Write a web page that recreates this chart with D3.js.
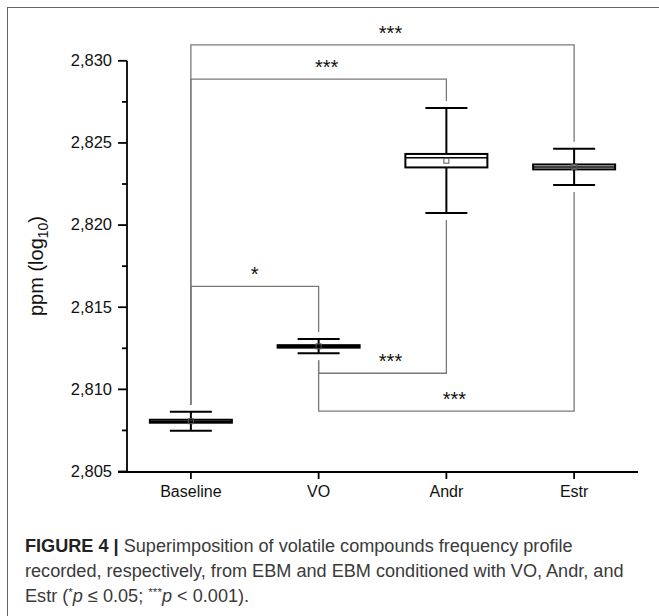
<!DOCTYPE html>
<html><head><meta charset="utf-8">
<script src="https://cdn.jsdelivr.net/npm/d3@7"></script>
<style>
body{margin:0;background:#fff}
svg{display:block}
text{font-family:"Liberation Sans",Arial,Helvetica,sans-serif}
</style>
</head><body>
<svg id="c" width="659" height="616"></svg>
<script>
// ---- data ----
const categories = ["Baseline", "VO", "Andr", "Estr"];
const whiskerLow  = [2.80748, 2.81220, 2.82074, 2.82244];
const q1          = [2.80797, 2.81254, 2.82351, 2.82339];
const median      = [2.80804, 2.81262, 2.82410, 2.82353];
const q3          = [2.80815, 2.81269, 2.82433, 2.82369];
const whiskerHigh = [2.80863, 2.81307, 2.82712, 2.82465];
const means       = [2.80806, 2.81262, 2.82392, 2.82353];
const yTicks      = [2.805, 2.810, 2.815, 2.820, 2.825, 2.830];
const yMinorTicks = [2.8075, 2.8125, 2.8175, 2.8225, 2.8275];
const bracketFrom  = ["Baseline", "Baseline", "Baseline", "VO", "VO"];
const bracketTo    = ["Estr", "Andr", "VO", "Andr", "Estr"];
const bracketLevel = [2.83097, 2.82889, 2.81627, 2.81098, 2.80868];
const bracketLabel = ["***", "***", "*", "***", "***"];

// ---- scales ----
const svg = d3.select("#c");
const y = d3.scaleLinear().domain([2.805, 2.830]).range([471.5, 60.8]);
const x = d3.scalePoint().domain(categories).range([127, 638]).padding(0.5);
const loc = d3.formatLocale({decimal: ",", thousands: ".", grouping: [3], currency: ["", ""]});
const fmt = loc.format(".3f");

const boxes = categories.map((c, i) => ({
  c, lo: whiskerLow[i], q1: q1[i], med: median[i], q3: q3[i], hi: whiskerHigh[i], mean: means[i]
}));
const byCat = Object.fromEntries(boxes.map(b => [b.c, b]));

// frame
svg.append("rect").attr("x", 7.5).attr("y", 7.5).attr("width", 720).attr("height", 720)
  .attr("fill", "none").attr("stroke", "#666").attr("stroke-width", 1);

// ---- significance brackets ----
const gap = 7;
const br = bracketFrom.map((f, i) => ({from: f, to: bracketTo[i], level: bracketLevel[i], label: bracketLabel[i]}));
const bg = svg.append("g").attr("stroke", "#7a7a7a").attr("stroke-width", 1.3).attr("fill", "none");
function legEnd(cat, level) {
  const b = byCat[cat];
  return level > b.hi ? y(b.hi) - gap : y(b.lo) + gap;
}
br.forEach(d => {
  const x1 = x(d.from), x2 = x(d.to), yl = y(d.level);
  bg.append("path").attr("d",
    `M${x1},${legEnd(d.from, d.level)}V${yl}H${x2}V${legEnd(d.to, d.level)}`);
});
svg.append("g").selectAll("text").data(br).join("text")
  .attr("x", d => (x(d.from) + x(d.to)) / 2 + (d.label.length > 1 ? 8 : 0))
  .attr("y", d => y(d.level) - 5)
  .attr("text-anchor", "middle").attr("font-size", 20).attr("fill", "#111")
  .text(d => d.label);

// ---- axes ----
const yAx = svg.append("g").attr("transform", "translate(127,0)")
  .call(d3.axisLeft(y).tickValues(yTicks).tickFormat(fmt).tickSize(9).tickSizeOuter(0).tickPadding(6).offset(0));
svg.append("g").attr("transform", "translate(127,0)")
  .call(d3.axisLeft(y).tickValues(yMinorTicks).tickFormat("").tickSize(5).tickSizeOuter(0).offset(0))
  .call(g => g.select(".domain").remove());
const xAx = svg.append("g").attr("transform", "translate(0,472)")
  .call(d3.axisBottom(x).tickSize(7).tickSizeOuter(0).tickPadding(7).offset(0));
svg.selectAll(".domain, .tick line").attr("stroke", "#000").attr("stroke-width", 1.8);
yAx.attr("font-size", 16.5);
xAx.attr("font-size", 16);
[yAx, xAx].forEach(g => g.attr("font-family", '"Liberation Sans",Arial,sans-serif')
  .selectAll("text").attr("fill", "#111"));
xAx.select(".domain").attr("d", "M118,0H638");

// y label
svg.append("text").attr("transform", "translate(43,266) rotate(-90)")
  .attr("text-anchor", "middle").attr("font-size", 20).attr("fill", "#111")
  .call(t => {
    t.append("tspan").text("ppm (log");
    t.append("tspan").attr("font-size", 14).attr("dy", 5).text("10");
    t.append("tspan").attr("dy", -5).text(")");
  });

// ---- box plots ----
const boxW = 82, capW = 42;
const gb = svg.append("g").attr("stroke", "#000").attr("stroke-width", 2);
const grp = gb.selectAll("g").data(boxes).join("g");
grp.append("line").attr("x1", d => x(d.c)).attr("x2", d => x(d.c))
  .attr("y1", d => y(d.hi)).attr("y2", d => y(d.q3));
grp.append("line").attr("x1", d => x(d.c)).attr("x2", d => x(d.c))
  .attr("y1", d => y(d.q1)).attr("y2", d => y(d.lo));
grp.append("line").attr("x1", d => x(d.c) - capW / 2).attr("x2", d => x(d.c) + capW / 2)
  .attr("y1", d => y(d.hi)).attr("y2", d => y(d.hi));
grp.append("line").attr("x1", d => x(d.c) - capW / 2).attr("x2", d => x(d.c) + capW / 2)
  .attr("y1", d => y(d.lo)).attr("y2", d => y(d.lo));
grp.append("rect").attr("x", d => x(d.c) - boxW / 2).attr("width", boxW)
  .attr("y", d => y(d.q3)).attr("height", d => y(d.q1) - y(d.q3)).attr("fill", "#fff");
grp.append("line").attr("x1", d => x(d.c) - boxW / 2).attr("x2", d => x(d.c) + boxW / 2)
  .attr("y1", d => y(d.med)).attr("y2", d => y(d.med)).attr("stroke-width", 1.5);
grp.append("rect").attr("x", d => x(d.c) - 2.5).attr("y", d => y(d.mean) - 2.5)
  .attr("width", 5).attr("height", 5).attr("fill", "none").attr("stroke", "#555").attr("stroke-width", 1);

// ---- caption ----
const cap = svg.append("g").attr("fill", "#3a3a3a");
const l1 = cap.append("text").attr("x", 25).attr("y", 552);
l1.append("tspan").attr("font-weight", "bold").attr("fill", "#222").text("FIGURE 4 |");
l1.append("tspan").text(" Superimposition of volatile compounds frequency profile");
const l2 = cap.append("text").attr("x", 25).attr("y", 577)
  .text("recorded, respectively, from EBM and EBM conditioned with VO, Andr, and");
const l3 = cap.append("text").attr("x", 25).attr("y", 602);
l3.append("tspan").text("Estr (");
l3.append("tspan").attr("font-size", "0.65em").attr("dy", -6).text("*");
l3.append("tspan").attr("font-style", "italic").attr("dy", 6).text("p");
l3.append("tspan").text(" ≤ 0.05; ");
l3.append("tspan").attr("font-size", "0.65em").attr("dy", -6).text("***");
l3.append("tspan").attr("font-style", "italic").attr("dy", 6).text("p");
l3.append("tspan").text(" < 0.001).");
cap.selectAll("text").attr("font-size", 17);
const w = l2.node().getComputedTextLength();
const fs = 17 * 599 / w;
cap.selectAll("text").attr("font-size", fs);
</script>
</body></html>
